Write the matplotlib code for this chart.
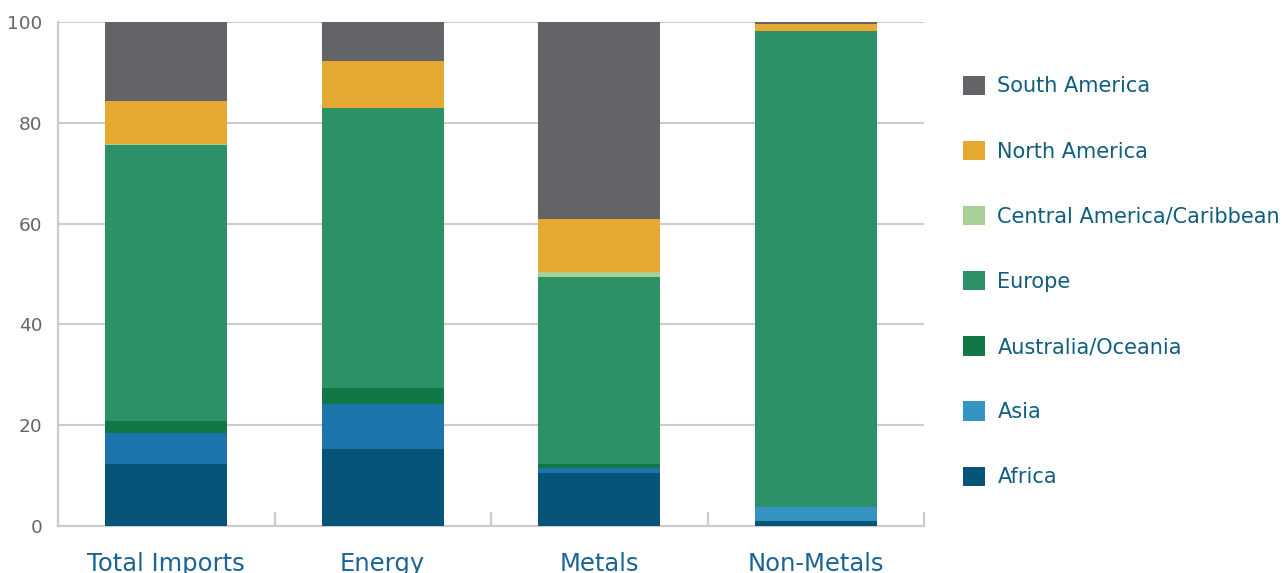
import matplotlib
matplotlib.use('Agg')
import matplotlib.pyplot as plt
from matplotlib.patches import Patch
import numpy as np

#Data (percent share of imports by origin region)
categories = ['Total Imports', 'Energy', 'Metals', 'Non-Metals']
regions = ['Africa', 'Asia', 'Australia/Oceania', 'Europe',
           'Central America/Caribbean', 'North America', 'South America']
africa = [12.3, 15.2, 10.6, 0.9]
asia = [6.2, 9.0, 0.9, 2.8]
australia = [2.4, 3.2, 0.8, 0.1]
europe = [54.6, 55.5, 37.2, 94.5]
central_am = [0.2, 0.0, 0.8, 0.0]
north_am = [8.6, 9.3, 10.7, 1.3]
south_am = [15.7, 7.8, 39.0, 0.4]
yticks = [0, 20, 40, 60, 80, 100]

series = [africa, asia, australia, europe, central_am, north_am, south_am]
colors = ['#065478', '#1B75AC', '#117845', '#2D9168', '#A8D096', '#E5A830', '#636468']
legend_colors = ['#065478', '#3494C3', '#117845', '#2D9168', '#A8D096', '#E5A830', '#636468']
asia_bar_colors = ['#1B75AC', '#1B75AC', '#1B75AC', '#3593C1']

grid_c = '#CCCCCC'
label_c = '#1A6496'
legend_c = '#0F5E80'

fig = plt.figure(figsize=(12.82, 5.73), dpi=100)
ax = fig.add_axes([58/1282, 1-526/573, 866/1282, 504/573])

x = np.arange(len(categories))
bottom = np.zeros(len(categories))
for i, (vals, col) in enumerate(zip(series, colors)):
    c = asia_bar_colors if regions[i] == 'Asia' else col
    ax.bar(x, vals, width=0.563, bottom=bottom, color=c, linewidth=0, zorder=3)
    bottom += np.array(vals)

ax.set_xlim(-0.5, 3.5)
ax.set_ylim(0, 100)
ax.set_yticks(yticks)
ax.set_yticklabels([str(v) for v in yticks], fontsize=13.3, color='#666666')
ax.tick_params(axis='y', length=0, pad=11)
ax.yaxis.grid(True, color=grid_c, linewidth=1.5, zorder=0)
ax.set_axisbelow(True)

ax.set_xticks(x)
ax.set_xticklabels(categories, fontsize=17.5, color=label_c)
ax.tick_params(axis='x', which='major', length=0, pad=19)
ax.set_xticks([0.5, 1.5, 2.5, 3.5], minor=True)
ax.tick_params(axis='x', which='minor', direction='in', length=10, width=1.6, color=grid_c)

for s in ['top', 'right']:
    ax.spines[s].set_visible(False)
for s in ['left', 'bottom']:
    ax.spines[s].set_color(grid_c)
    ax.spines[s].set_linewidth(1.6)

handles = [Patch(facecolor=c, edgecolor='none') for c in legend_colors]
leg = fig.legend(handles[::-1], regions[::-1], loc='center left',
                 bbox_to_anchor=(963/1282, 1-281.5/573), frameon=False,
                 fontsize=15, handlelength=1.05, handleheight=1.05,
                 handletextpad=0.6, labelspacing=2.13, borderpad=0, borderaxespad=0)
for t in leg.get_texts():
    t.set_color(legend_c)

fig.savefig('out.png', dpi=100)
